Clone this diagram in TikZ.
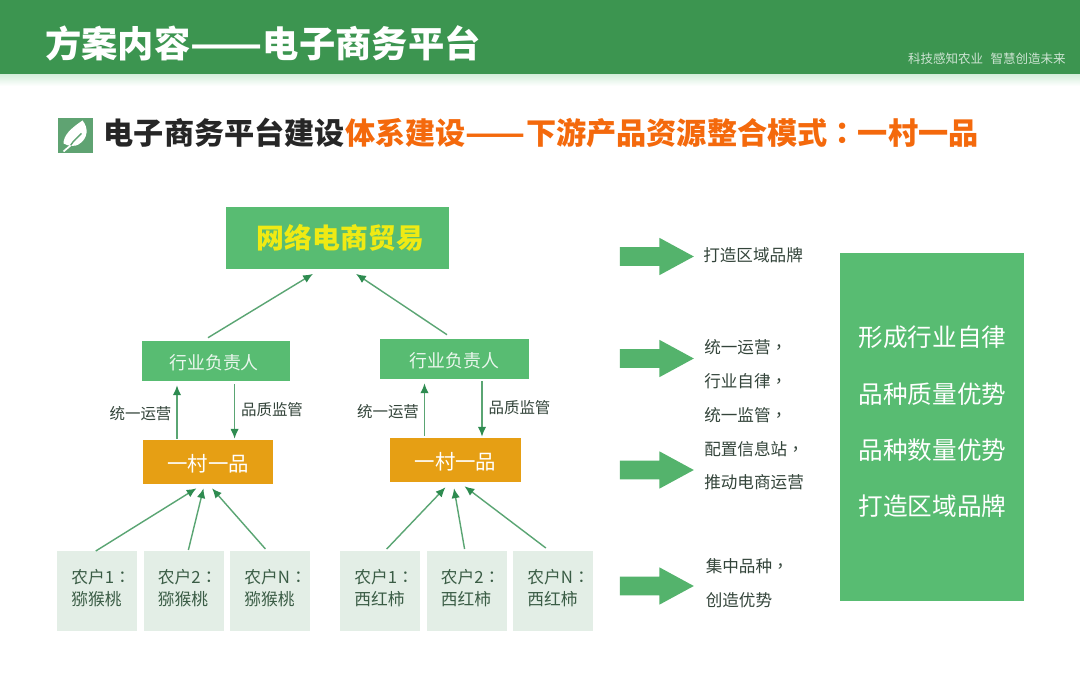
\documentclass[tikz,border=0pt]{standalone}
\usepackage{fontspec}
\setmainfont{Noto Sans CJK SC}
\newfontfamily\puncfont{Noto Sans CJK TC}
\newcommand{\cln}{{\puncfont ：}}
\newcommand{\cma}{{\puncfont ，}}
\newcommand{\dbldash}{\makebox[2em][c]{\scalebox{1.16}[1]{——}}}
\usetikzlibrary{shapes.arrows,arrows.meta,positioning}
\definecolor{cpbar}{HTML}{3C9550}
\definecolor{cpgreen}{HTML}{58BC72}
\definecolor{cpamber}{HTML}{E69F14}
\definecolor{cppale}{HTML}{E3EEE6}
\definecolor{cpline}{HTML}{5AA573}
\definecolor{cptip}{HTML}{2E8B50}
\definecolor{cpdark}{HTML}{33443A}
\definecolor{cporange}{HTML}{F4690C}
\definecolor{cpicon}{HTML}{5FA372}

\begin{document}
\begin{tikzpicture}[
  x=0.025cm, y=-0.025cm,
  greenbox/.style={fill=cpgreen, inner sep=0pt, align=center},
  leadbox/.style={greenbox, minimum width=3.7cm, minimum height=1cm, text height=14pt, text depth=1.5pt,
                   text=white!88!cpgreen, font=\fontsize{12.7pt}{15pt}\selectfont},
  villagebox/.style={fill=cpamber, inner sep=0pt, minimum width=3.26cm, minimum height=1.1cm, text height=15.5pt, text depth=1.7pt,
                     text=white, font=\fontsize{14.5pt}{17pt}\selectfont},
  farmer/.style={fill=cppale, inner sep=0pt, minimum width=2cm, minimum height=2cm, text width=1.3cm, align=left,
                 text height=8pt, text depth=18.8pt, text=cpdark!80!cpgreen, font=\fontsize{11.9pt}{15.6pt}\selectfont},
  bigarr/.style={single arrow, fill=cpgreen!95!black, inner sep=0pt, anchor=tail, text height=0.45cm, text depth=0pt, minimum height=1.85cm,
                 single arrow head extend=0.235cm, single arrow tip angle=57},
  arr/.style={-{Latex[length=7pt,width=6pt,color=cptip]}, line width=1pt, cpline},
  labarr/.style={text=cpdark, font=\fontsize{11pt}{13pt}\selectfont},
  sidetxt/.style={text=cpdark, anchor=west, inner sep=0pt, font=\fontsize{11.8pt}{14pt}\selectfont},
  sumtxt/.style={text=white, font=\fontsize{17.5pt}{21pt}\selectfont}
]
\useasboundingbox (0,0) rectangle (1080,675);
\fill[white] (0,0) rectangle (1080,675);

% Header bar
\node[fill=cpbar, minimum width=27cm, minimum height=1.85cm, inner sep=0pt, anchor=north west] (bar) at (0,0) {};
\shade[top color=cpgreen!25, bottom color=white] (bar.south west) rectangle (1080,86);
\node[text=white, inner sep=0pt, font=\fontsize{25.8pt}{30pt}\selectfont\bfseries, anchor=west] (title) at (45,43) {方案内容\dbldash 电子商务平台};
\node[text=white!75!cpbar, inner sep=0pt, font=\fontsize{8.9pt}{11pt}\selectfont, anchor=east] (slogan) at (1066,59) {科技感知农业\hspace{0.6em}智慧创造未来};

% Heading with leaf icon
\node[fill=cpicon, minimum width=0.87cm, minimum height=0.87cm, inner sep=0pt] (icon) at (75.5,135.5) {};
\begin{scope}[shift={(icon.center)}]
  \fill[white] (7,-15) .. controls (13,-8) and (13,3) .. (3,9) .. controls (0,11) and (-7,11) .. (-12,8)
    .. controls (-12,0) and (-5,-7) .. cycle;
  \draw[cpicon, line width=1pt] (-5,10) .. controls (-2,5) and (2,2) .. (6,-2);
  \draw[white, line width=1.2pt] (-12,16) -- (-5,10);
\end{scope}
\node[font=\fontsize{21.45pt}{25pt}\selectfont\bfseries, anchor=west, inner sep=0pt, text=black!85] (head) at (103.5,132.5) {电子商务平台建设\textcolor{cporange}{体系建设\dbldash 下游产品资源整合模式\cln 一村一品}};

% Tree boxes
\node[greenbox, minimum width=5.57cm, minimum height=1.53cm, text=yellow!90!cpgreen, font=\fontsize{19.8pt}{24pt}\selectfont\bfseries] (trade) at (337.5,238) {\hspace*{0.15cm}网络电商贸易};
\node[leadbox] (leadl) at (216,361) {\hspace*{-0.09cm}行业负责人};
\node[leadbox] (leadr) at (454.5,359) {行业负责人};
\node[villagebox] (vill) at (208,462) {一村一品};
\node[villagebox] (vilr) at (455.5,460) {一村一品};

\node[farmer, anchor=north west] (fa) at (57,551) {农户1\cln\\猕猴桃};
\node[farmer, right=0.15cm of fa] (fb) {农户2\cln\\猕猴桃};
\node[farmer, right=0.15cm of fb] (fc) {农户N\cln\\猕猴桃};
\node[farmer, anchor=north west] (fd) at (340,551) {农户1\cln\\西红柿};
\node[farmer, right=0.15cm of fd] (fe) {农户2\cln\\西红柿};
\node[farmer, right=0.15cm of fe] (ff) {农户N\cln\\西红柿};

% Arrows
\draw[arr] ([shift={(-8,-3)}]leadl.north) -- ([shift={(-24.5,5)}]trade.south);
\draw[arr] ([shift={(-7.5,-4)}]leadr.north) -- ([shift={(18.5,5)}]trade.south);
\draw[arr] ([shift={(-31,-1)}]vill.north) -- ([shift={(-39,4)}]leadl.south);
\draw[arr] ([shift={(18.6,3)}]leadl.south) -- ([shift={(26.6,-1)}]vill.north);
\draw[arr] ([shift={(-31,-2)}]vilr.north) -- ([shift={(-30,4)}]leadr.south);
\draw[arr] ([shift={(27.5,2)}]leadr.south) -- ([shift={(26.5,-1)}]vilr.north);
\draw[arr] ([shift={(-1.5,0)}]fa.north) -- ([shift={(-11.5,4)}]vill.south);
\draw[arr] ([shift={(4.5,-1)}]fb.north) -- ([shift={(-4.5,4)}]vill.south);
\draw[arr] ([shift={(-5,-2)}]fc.north) -- ([shift={(4,4)}]vill.south);
\draw[arr] ([shift={(6.4,-2)}]fd.north) -- ([shift={(-10,5)}]vilr.south);
\draw[arr] ([shift={(-2.3,-2)}]fe.north) -- ([shift={(-1.5,6)}]vilr.south);
\draw[arr] ([shift={(-7.6,-3)}]ff.north) -- ([shift={(9,4)}]vilr.south);

% Arrow labels
\node[labarr] (la) at (140.5,414) {统一运营};
\node[labarr] (lb) at (272,409.5) {品质监管};
\node[labarr] (lc) at (388,412) {统一运营};
\node[labarr] (ld) at (519.5,407.5) {品质监管};

% Big arrows and notes
\node[bigarr] (ba) at (619.5,256.5) {};
\node[bigarr] (bb) at (619.5,358.5) {};
\node[bigarr] (bc) at (619.5,470) {};
\node[bigarr] (bd) at (619.5,586) {};
\node[sidetxt] (na) at (703,255) {打造区域品牌};
\node[sidetxt] (nb) at (704,347.5) {统一运营\cma};
\node[sidetxt] (nc) at (704,381) {行业自律\cma};
\node[sidetxt] (nd) at (704,415) {统一监管\cma};
\node[sidetxt] (ne) at (704,449) {配置信息站\cma};
\node[sidetxt] (nf) at (704,482.5) {推动电商运营};
\node[sidetxt] (ng) at (705.5,566.5) {集中品种\cma};
\node[sidetxt] (nh) at (705.5,600) {创造优势};

% Summary panel
\node[greenbox, minimum width=4.59cm, minimum height=8.68cm] (panel) at (932,427) {};
\node[sumtxt] (sa) at (932.5,337) {形成行业自律};
\node[sumtxt] (sb) at (932.5,394) {品种质量优势};
\node[sumtxt] (sc) at (932.5,450) {品种数量优势};
\node[sumtxt] (sd) at (932.5,506) {打造区域品牌};
\end{tikzpicture}
\end{document}
